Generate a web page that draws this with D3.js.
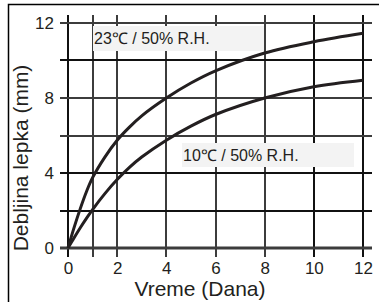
<!DOCTYPE html>
<html lang="sr">
<head>
<meta charset="UTF-8">
<title>Debljina lepka</title>
<style>
    body { margin: 0; padding: 0; background: #fff; }
    svg { display: block; font-family: "Liberation Sans", Arial, sans-serif; }
    .tick text { font-size: 17px; fill: #231f20; }
    .curve { fill: none; stroke: #231f20; stroke-width: 3; }
    .note rect { fill: #f3f3f3; }
    .note text { font-size: 16px; fill: #231f20; }
</style>
</head>
<body>
<script src="https://d3js.org/d3.v7.min.js"></script>
<script>
    // vrednosti ocitane sa slike
    const days = [0, 0.25, 0.5, 0.75, 1, 1.5, 2, 2.5, 3, 4, 5, 6, 8, 10, 12];
    const thick23 = [0, 1.1, 2.1, 3.0, 3.75, 4.85, 5.75, 6.45, 7.05, 8.0, 8.8, 9.45, 10.4, 11.0, 11.45];
    const thick10 = [0, 0.55, 1.08, 1.58, 2.05, 2.9, 3.65, 4.3, 4.85, 5.75, 6.5, 7.12, 8.0, 8.6, 8.95];
    const xTicks = [0, 2, 4, 6, 8, 10, 12];
    const yTicks = [0, 4, 8, 12];
    const xGrid = [0, 1, 2, 4, 6, 8, 10, 12];
    const yGrid = [0, 2, 4, 6, 8, 10, 12];

    const width = 379, height = 302;

    const x = d3.scaleLinear().domain([0, 12]).range([68, 363]);
    const y = d3.scaleLinear().domain([0, 12]).range([248, 23]);

    const svg = d3.select("body").append("svg")
        .attr("width", width)
        .attr("height", height);

    // okvir
    svg.append("rect")
        .attr("x", 8.5).attr("y", 4.5)
        .attr("width", 420).attr("height", 420)
        .attr("fill", "none")
        .attr("stroke", "#000")
        .attr("stroke-width", 1.5);

    // mreza
    const gridV = svg.append("g");
    xGrid.forEach(v => {
        gridV.append("line")
            .attr("x1", Math.round(x(v))).attr("x2", Math.round(x(v)))
            .attr("y1", Math.round(y(12)) - 8).attr("y2", Math.round(y(0)) + 9)
            .attr("stroke", v === 0 || v >= 10 ? "#111" : "#3c3c3c")
            .attr("stroke-width", 2);
    });
    const gridH = svg.append("g");
    yGrid.forEach(v => {
        gridH.append("line")
            .attr("y1", Math.round(y(v))).attr("y2", Math.round(y(v)))
            .attr("x1", Math.round(x(0)) - 8).attr("x2", Math.round(x(12)) + 9)
            .attr("stroke", v === 2 || v === 4 || v === 10 ? "#111" : "#3c3c3c")
            .attr("stroke-width", v === 0 ? 3 : 2);
    });

    // napomene
    const notes = [
        { label: "23\u2103 / 50% R.H.", x: 93, y: 26, w: 171, h: 25 },
        { label: "10\u2103 / 50% R.H.", x: 182, y: 143, w: 172, h: 24 }
    ];
    const note = svg.selectAll("g.note").data(notes).enter().append("g").attr("class", "note");
    note.append("rect")
        .attr("x", d => d.x).attr("y", d => d.y)
        .attr("width", d => d.w).attr("height", d => d.h);
    note.append("text")
        .attr("x", d => d.x + 1)
        .attr("y", d => d.y + 18)
        .text(d => d.label);

    // krive
    const line = d3.line()
        .x((d, i) => x(days[i]))
        .y(d => y(d))
        .curve(d3.curveCatmullRom.alpha(0.5));

    svg.append("path").attr("class", "curve").attr("d", line(thick23));
    svg.append("path").attr("class", "curve").attr("d", line(thick10));

    // ose
    svg.append("g")
        .attr("transform", "translate(0," + y(0) + ")")
        .call(d3.axisBottom(x).tickValues(xTicks).tickSize(0).tickPadding(14))
        .call(g => g.select(".domain").remove());

    svg.append("g")
        .attr("transform", "translate(" + x(0) + ",0)")
        .call(d3.axisLeft(y).tickValues(yTicks).tickSize(0).tickPadding(14))
        .call(g => g.select(".domain").remove());

    // naslovi osa
    svg.append("text")
        .attr("x", 200)
        .attr("y", 296)
        .attr("text-anchor", "middle")
        .attr("font-size", "21px")
        .attr("fill", "#231f20")
        .text("Vreme (Dana)");

    svg.append("text")
        .attr("transform", "translate(28,158) rotate(-90)")
        .attr("text-anchor", "middle")
        .attr("font-size", "21px")
        .attr("fill", "#231f20")
        .text("Debljina lepka (mm)");
</script>
</body>
</html>
